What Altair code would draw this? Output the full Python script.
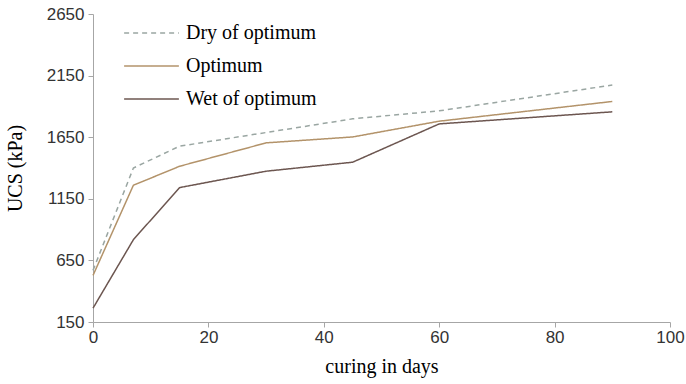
import altair as alt
import pandas as pd

days = [0, 7, 15, 30, 45, 60, 90]
dry = [569, 1400, 1577, 1688, 1799, 1864, 2073]
optimum = [528, 1260, 1414, 1604, 1652, 1780, 1940]
wet = [262, 818, 1241, 1374, 1447, 1758, 1856]
series_names = ["Dry of optimum", "Optimum", "Wet of optimum"]
series_colors = ["#9aa6a2", "#b3936a", "#6c5650"]
series_dash = [[5, 4], [1, 0], [1, 0]]

rows = []
for name, vals in zip(series_names, [dry, optimum, wet]):
    for d, v in zip(days, vals):
        rows.append({"days": d, "ucs": v, "series": name})
df = pd.DataFrame(rows)

legend_opts = dict(orient="none", legendX=30, legendY=8,
                   symbolType="stroke", symbolSize=3000,
                   symbolStrokeWidth=1.5, clipHeight=22,
                   labelFont="Liberation Serif", labelFontSize=20,
                   labelColor="#000", labelOffset=6, labelLimit=300,
                   rowPadding=11)

chart = alt.Chart(df).mark_line(strokeWidth=1.5).encode(
    x=alt.X("days:Q", title="curing in days",
            scale=alt.Scale(domain=[0, 100], nice=False),
            axis=alt.Axis(values=[0, 20, 40, 60, 80, 100], grid=False,
                          format="d", labelFlush=False)),
    y=alt.Y("ucs:Q", title="UCS (kPa)",
            scale=alt.Scale(domain=[150, 2650], nice=False, zero=False),
            axis=alt.Axis(values=[150, 650, 1150, 1650, 2150, 2650], grid=False,
                          format="d", labelFlush=False)),
    color=alt.Color("series:N", title=None,
                    scale=alt.Scale(domain=series_names, range=series_colors),
                    legend=alt.Legend(**legend_opts)),
    strokeDash=alt.StrokeDash("series:N", title=None,
                              scale=alt.Scale(domain=series_names, range=series_dash),
                              legend=alt.Legend(**legend_opts)),
).properties(
    width=577, height=308,
    autosize=alt.AutoSizeParams(type="none"),
    padding={"left": 93, "top": 14, "right": 16, "bottom": 62},
).configure_view(stroke=None).configure_axis(
    domainColor="#a6a6a6", tickColor="#a6a6a6", tickSize=5,
    labelFont="Liberation Sans", labelFontSize=17, labelColor="#333333",
    titleFont="Liberation Serif", titleFontSize=20, titleFontWeight="normal",
    titleColor="#000000",
).configure_axisX(labelPadding=2, titlePadding=11).configure_axisY(
    labelPadding=4, titlePadding=21)

chart.save("out.html", embed_options={"renderer": "svg", "actions": False})
